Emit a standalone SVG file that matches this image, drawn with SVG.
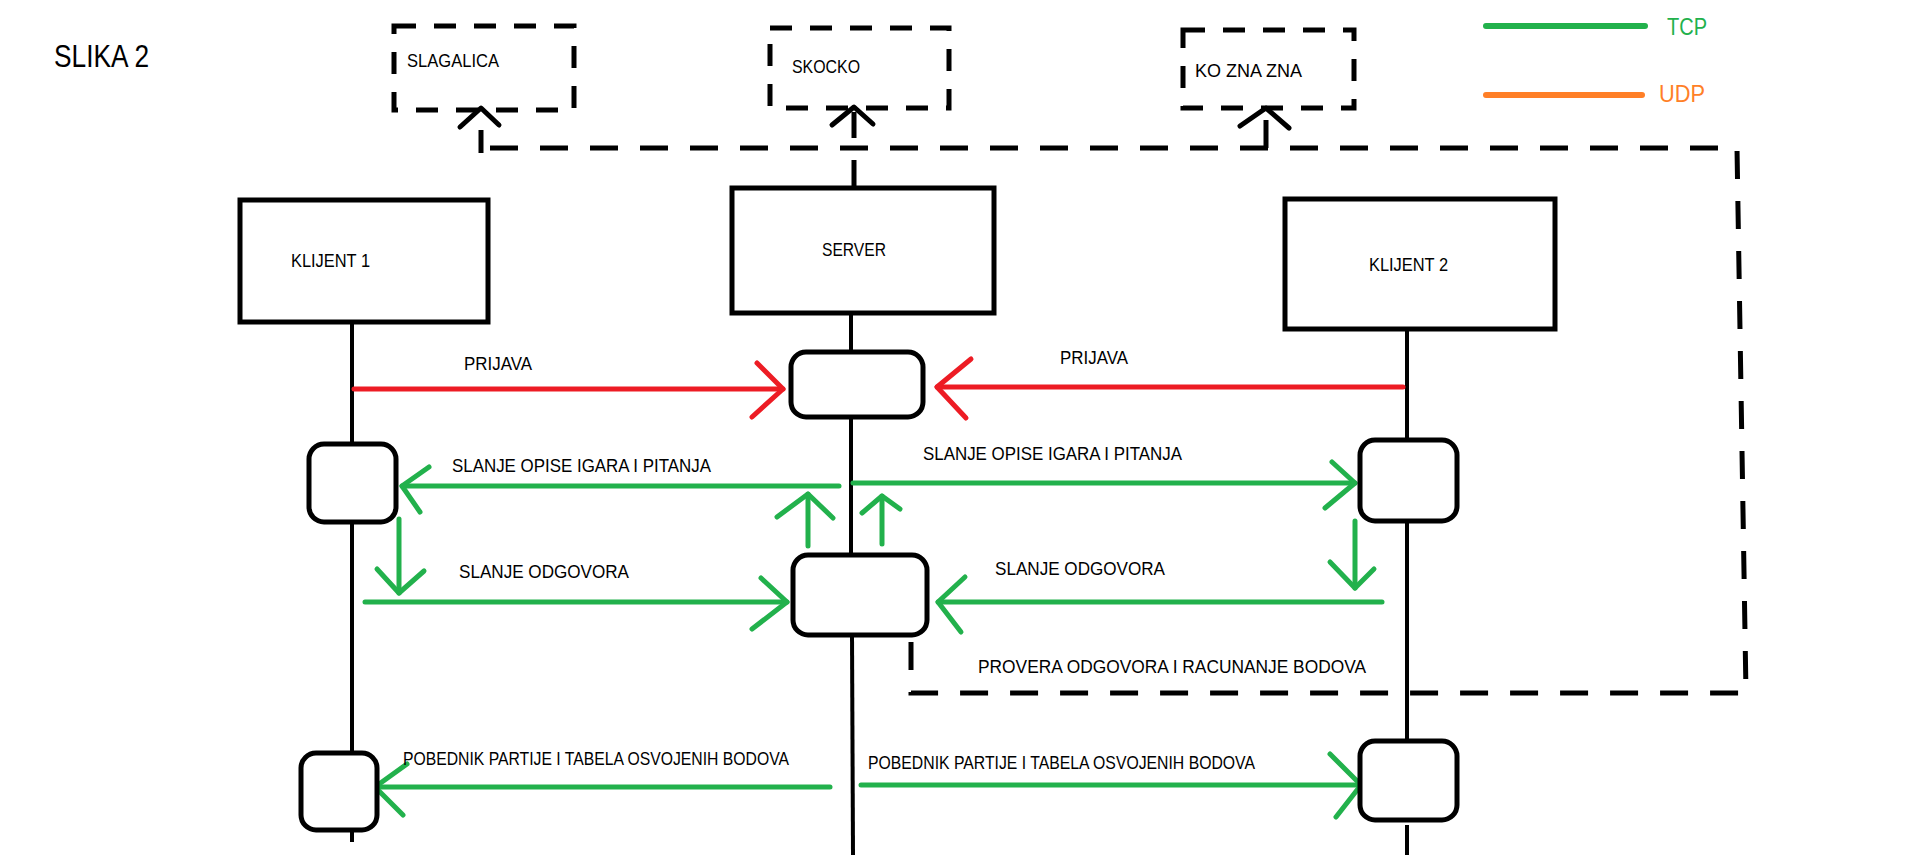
<svg xmlns="http://www.w3.org/2000/svg" width="1905" height="864" viewBox="0 0 1905 864">
<style>
text{font-family:"Liberation Sans",Arial,sans-serif;fill:#000}
.box{fill:#fff;stroke:#000;stroke-width:5}
.rbox{fill:#fff;stroke:#000;stroke-width:5}
.dbox{fill:none;stroke:#000;stroke-width:5;stroke-dasharray:22 18}
.life{stroke:#000;stroke-width:4;fill:none}
.dash{stroke:#000;stroke-width:5;fill:none;stroke-dasharray:28 22}
.blk{stroke:#000;stroke-width:5;fill:none;stroke-linecap:round;stroke-linejoin:round}
.red{stroke:#ed1c24;stroke-width:5;fill:none;stroke-linecap:round;stroke-linejoin:round}
.grn{stroke:#22b14c;stroke-width:5;fill:none;stroke-linecap:round;stroke-linejoin:round}
.lbl{font-size:17.5px}
</style>
<rect width="1905" height="864" fill="#fff"/>
<text x="54" y="67" font-size="32" textLength="95" lengthAdjust="spacingAndGlyphs">SLIKA 2</text>
<g id="legend">
<line x1="1486" y1="26" x2="1645" y2="26" stroke="#22b14c" stroke-width="6" stroke-linecap="round"/>
<text x="1667" y="35" font-size="24" style="fill:#22b14c" textLength="40" lengthAdjust="spacingAndGlyphs">TCP</text>
<line x1="1486" y1="95" x2="1642" y2="95" stroke="#ff7f27" stroke-width="6" stroke-linecap="round"/>
<text x="1659" y="102" font-size="24" style="fill:#ff7f27" textLength="46" lengthAdjust="spacingAndGlyphs">UDP</text>
</g>
<g id="connectors">
<line class="life" x1="352" y1="322" x2="352" y2="444"/>
<line class="life" x1="352" y1="522" x2="352" y2="753"/>
<line class="life" x1="352" y1="830" x2="352" y2="842"/>
<line class="life" x1="851" y1="313" x2="851" y2="352"/>
<line class="life" x1="851" y1="417" x2="851" y2="555"/>
<line class="life" x1="852" y1="635" x2="853" y2="855"/>
<line class="life" x1="1407" y1="329" x2="1407" y2="440"/>
<line class="life" x1="1407" y1="521" x2="1407" y2="741"/>
<line class="life" x1="1407" y1="825" x2="1407" y2="855"/>
<path class="dash" d="M481 153 V130"/>
<path class="dash" d="M490 148 H1737 L1746 693 H911 V633"/>
<path class="dash" d="M854 188 V112" stroke-dasharray="26 18"/>
<path class="dash" d="M1266 148 V112" stroke-dasharray="26 12"/>
<polyline class="blk" points="460,127 481,108 499,125"/>
<polyline class="blk" points="832,125 854,107 873,124"/>
<polyline class="blk" points="1240,126 1266,108 1289,128"/>
<line class="red" x1="354" y1="389" x2="783" y2="389"/>
<polyline class="red" points="757,363 783,389 752,417"/>
<line class="red" x1="1403" y1="387" x2="937" y2="387"/>
<polyline class="red" points="971,359 937,387 966,418"/>
<line class="grn" x1="839" y1="486" x2="402" y2="486"/>
<polyline class="grn" points="429,467 402,486 420,512"/>
<line class="grn" x1="853" y1="483" x2="1355" y2="483"/>
<polyline class="grn" points="1332,462 1355,483 1325,508"/>
<line class="grn" x1="808" y1="546" x2="808" y2="494"/>
<polyline class="grn" points="777,517 808,494 833,518"/>
<line class="grn" x1="882" y1="544" x2="882" y2="496"/>
<polyline class="grn" points="862,513 882,496 900,509"/>
<line class="grn" x1="399" y1="519" x2="399" y2="593"/>
<polyline class="grn" points="377,569 399,593 424,571"/>
<line class="grn" x1="1355" y1="521" x2="1355" y2="588"/>
<polyline class="grn" points="1330,562 1355,588 1374,569"/>
<line class="grn" x1="365" y1="602" x2="787" y2="602"/>
<polyline class="grn" points="761,578 787,602 752,629"/>
<line class="grn" x1="1382" y1="602" x2="938" y2="602"/>
<polyline class="grn" points="965,577 938,602 961,632"/>
<line class="grn" x1="830" y1="787" x2="375" y2="787"/>
<polyline class="grn" points="407,764 375,787 403,815"/>
<line class="grn" x1="861" y1="785" x2="1361" y2="785"/>
<polyline class="grn" points="1330,754 1361,785 1336,817"/>
</g>
<g id="slagalica">
<rect class="dbox" x="394" y="26" width="180" height="84"/>
<text class="lbl" x="407" y="67" textLength="92" lengthAdjust="spacingAndGlyphs">SLAGALICA</text>
</g>
<g id="skocko">
<rect class="dbox" x="770" y="28" width="179" height="80"/>
<text class="lbl" x="792" y="73" textLength="68" lengthAdjust="spacingAndGlyphs">SKOCKO</text>
</g>
<g id="koznazna">
<rect class="dbox" x="1183" y="30" width="171" height="78"/>
<text class="lbl" x="1195" y="77" font-size="18.5" textLength="107" lengthAdjust="spacingAndGlyphs">KO ZNA ZNA</text>
</g>
<g id="klijent1">
<rect class="box" x="240" y="200" width="248" height="122"/>
<text class="lbl" x="291" y="267" textLength="79" lengthAdjust="spacingAndGlyphs">KLIJENT 1</text>
</g>
<g id="server">
<rect class="box" x="732" y="188" width="262" height="125"/>
<text class="lbl" x="822" y="256" font-size="18.5" textLength="64" lengthAdjust="spacingAndGlyphs">SERVER</text>
</g>
<g id="klijent2">
<rect class="box" x="1285" y="199" width="270" height="130"/>
<text class="lbl" x="1369" y="271" font-size="18.5" textLength="79" lengthAdjust="spacingAndGlyphs">KLIJENT 2</text>
</g>
<g id="server-act1"><rect class="rbox" x="791" y="352" width="132" height="65" rx="15"/></g>
<g id="server-act2"><rect class="rbox" x="793" y="555" width="134" height="80" rx="15"/></g>
<g id="k1-act1"><rect class="rbox" x="309" y="444" width="87" height="78" rx="15"/></g>
<g id="k1-act2"><rect class="rbox" x="301" y="753" width="76" height="77" rx="15"/></g>
<g id="k2-act1"><rect class="rbox" x="1360" y="440" width="97" height="81" rx="15"/></g>
<g id="k2-act2"><rect class="rbox" x="1360" y="741" width="97" height="79" rx="15"/></g>
<g id="labels">
<text class="lbl" x="464" y="370" font-size="18" textLength="68" lengthAdjust="spacingAndGlyphs">PRIJAVA</text>
<text class="lbl" x="1060" y="364" font-size="18" textLength="68" lengthAdjust="spacingAndGlyphs">PRIJAVA</text>
<text class="lbl" x="452" y="472" font-size="19.5" textLength="259" lengthAdjust="spacingAndGlyphs">SLANJE OPISE IGARA I PITANJA</text>
<text class="lbl" x="923" y="460" font-size="19.5" textLength="259" lengthAdjust="spacingAndGlyphs">SLANJE OPISE IGARA I PITANJA</text>
<text class="lbl" x="459" y="578" font-size="19.5" textLength="170" lengthAdjust="spacingAndGlyphs">SLANJE ODGOVORA</text>
<text class="lbl" x="995" y="575" font-size="19.5" textLength="170" lengthAdjust="spacingAndGlyphs">SLANJE ODGOVORA</text>
<text class="lbl" x="978" y="673" font-size="19" textLength="388" lengthAdjust="spacingAndGlyphs">PROVERA ODGOVORA I RACUNANJE BODOVA</text>
<text class="lbl" x="403" y="765" font-size="18" textLength="386" lengthAdjust="spacingAndGlyphs">POBEDNIK PARTIJE I TABELA OSVOJENIH BODOVA</text>
<text class="lbl" x="868" y="769" font-size="18" textLength="387" lengthAdjust="spacingAndGlyphs">POBEDNIK PARTIJE I TABELA OSVOJENIH BODOVA</text>
</g>
</svg>
